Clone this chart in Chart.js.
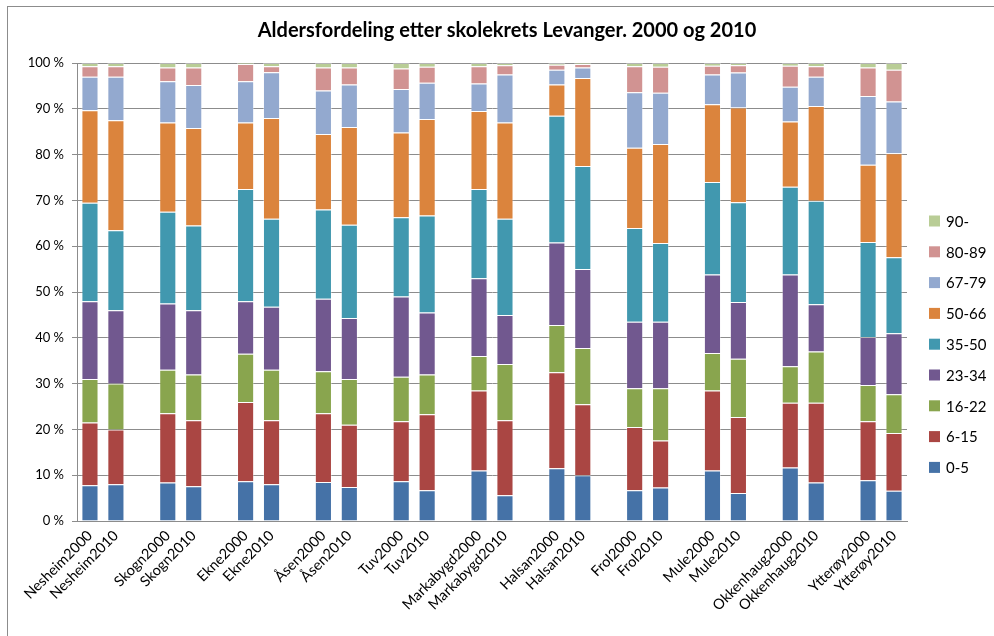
<!doctype html>
<html>
  <head>
    <meta charset="utf-8">
    <title>Aldersfordeling etter skolekrets Levanger</title>
    <script src="https://cdn.jsdelivr.net/npm/chart.js@4.4.0/dist/chart.umd.min.js"></script>
    <style>
    html, body { margin: 0; padding: 0; background: #fff; overflow: hidden; }
    #wrap { position: relative; width: 994px; height: 636px; }
    #frame { position: absolute; left: 7px; top: 6px; width: 1000px; height: 700px; border: 1px solid #8c8c8c; box-sizing: border-box; }
    #AgeChart { position: absolute; left: 0; top: 0; }
    </style>
  </head>
  <body>
    <div id="wrap">
      <div id="frame"></div>
      <canvas id="AgeChart" width="994" height="636"></canvas>
    </div>

    <script>
    // categories, "" = empty slot between the pairs
    var Kretser = ["Nesheim2000","Nesheim2010","","Skogn2000","Skogn2010","","Ekne2000","Ekne2010","",
      "Åsen2000","Åsen2010","","Tuv2000","Tuv2010","","Markabygd2000","Markabygd2010","",
      "Halsan2000","Halsan2010","","Frol2000","Frol2010","","Mule2000","Mule2010","",
      "Okkenhaug2000","Okkenhaug2010","","Ytterøy2000","Ytterøy2010"];

    var AgeGroups = ["0-5","6-15","16-22","23-34","35-50","50-66","67-79","80-89","90-"];
    var AgeColors = ["#4572A7","#AA4643","#89A54E","#71588F","#4198AF","#DB843D","#93A9CF","#D19392","#B9CD96"];

    // share in percent, one entry per category (null = gap)
    var Age0_5   = [7.8,8.0,null,8.4,7.6,null,8.7,8.0,null,8.5,7.4,null,8.7,6.7,null,11.0,5.6,null,11.5,10.0,null,6.7,7.3,null,11.0,6.1,null,11.7,8.4,null,8.9,6.6];
    var Age6_15  = [13.7,12.0,null,15.1,14.4,null,17.3,14.0,null,15.0,13.6,null,13.1,16.6,null,17.5,16.4,null,21.0,15.5,null,13.8,10.3,null,17.5,16.6,null,14.1,17.4,null,12.9,12.6];
    var Age16_22 = [9.5,10.0,null,9.5,10.0,null,10.5,11.0,null,9.2,10.0,null,9.7,8.7,null,7.5,12.3,null,10.3,12.3,null,8.5,11.4,null,8.2,12.7,null,8.0,11.2,null,7.9,8.5];
    var Age23_34 = [17.0,16.0,null,14.5,14.0,null,11.5,13.8,null,15.8,13.3,null,17.5,13.5,null,17.0,10.7,null,18.0,17.2,null,14.5,14.5,null,17.1,12.4,null,20.0,10.3,null,10.5,13.3];
    var Age35_50 = [21.5,17.5,null,20.0,18.5,null,24.5,19.2,null,19.5,20.4,null,17.3,21.2,null,19.5,21.0,null,27.7,22.5,null,20.5,17.2,null,20.2,21.8,null,19.2,22.6,null,20.7,16.6];
    var Age50_66 = [20.2,24.0,null,19.5,21.3,null,14.5,22.0,null,16.5,21.3,null,18.5,21.1,null,17.0,21.0,null,6.8,19.2,null,17.5,21.6,null,17.0,20.7,null,14.2,20.7,null,16.9,22.7];
    var Age67_79 = [7.3,9.5,null,9.0,9.4,null,9.0,10.0,null,9.5,9.3,null,9.5,7.9,null,6.0,10.5,null,3.2,2.3,null,12.1,11.2,null,6.5,7.6,null,7.6,6.4,null,15.0,11.3];
    var Age80_89 = [2.3,2.3,null,3.0,3.8,null,3.8,1.3,null,5.0,3.7,null,4.5,3.5,null,3.8,2.0,null,1.1,0.8,null,5.7,5.7,null,1.9,1.6,null,4.6,2.3,null,6.2,6.9];
    var Age90    = [0.7,0.7,null,1.0,1.0,null,0.2,0.7,null,1.0,1.0,null,1.2,0.8,null,0.7,0.5,null,0.4,0.2,null,0.7,0.8,null,0.6,0.5,null,0.6,0.7,null,1.0,1.5];

    var YTicks = [0,10,20,30,40,50,60,70,80,90,100];

    var AgeData = [Age0_5, Age6_15, Age16_22, Age23_34, Age35_50, Age50_66, Age67_79, Age80_89, Age90];
    var FontName = "Lato, 'Open Sans', sans-serif";

    var datasets = [];
    for (var i = 0; i < AgeGroups.length; i++) {
      datasets.push({
        label: AgeGroups[i],
        data: AgeData[i],
        backgroundColor: AgeColors[i],
        borderColor: "rgba(255,255,255,0.35)",
        borderWidth: 1,
        barPercentage: 0.66,
        categoryPercentage: 1
      });
    }

    // title + legend drawn by hand so the plot area stays put
    var extras = {
      id: "extras",
      afterDraw: function(chart) {
        var c = chart.ctx;
        c.save();
        c.fillStyle = "#000";
        c.font = "bold 20px " + FontName;
        c.textAlign = "center";
        c.textBaseline = "middle";
        c.fillText("Aldersfordeling etter skolekrets Levanger. 2000 og 2010", 507, 31);

        c.font = "15px " + FontName;
        c.textAlign = "left";
        for (var k = 0; k < AgeGroups.length; k++) {
          var j = AgeGroups.length - 1 - k;
          var y = 221 + k * 30.8;
          c.fillStyle = AgeColors[j];
          c.fillRect(929, y - 5.5, 11, 11);
          c.fillStyle = "#000";
          c.fillText(AgeGroups[j], 946, y + 1);
        }
        c.restore();
      }
    };

    var ctx = document.getElementById("AgeChart");
    var myChart = new Chart(ctx, {
      type: "bar",
      data: { labels: Kretser, datasets: datasets },
      options: {
        responsive: false,
        animation: false,
        maintainAspectRatio: false,
        layout: { padding: { left: 0, right: 87, top: 63, bottom: 0 } },
        plugins: {
          legend: { display: false },
          title: { display: false },
          tooltip: { enabled: false }
        },
        scales: {
          x: {
            stacked: true,
            grid: { display: false, drawTicks: false },
            border: { color: "#8c8c8c", width: 1 },
            ticks: {
              autoSkip: false,
              minRotation: 45,
              maxRotation: 45,
              padding: 6,
              color: "#000",
              font: { family: FontName, size: 14.5 }
            },
            afterFit: function(scale) { scale.height = 115; }
          },
          y: {
            stacked: true,
            min: 0,
            max: 100,
            afterBuildTicks: function(scale) {
              scale.ticks = YTicks.map(function(v) { return { value: v }; });
            },
            grid: { color: "#8c8c8c", lineWidth: 1, drawTicks: true, tickLength: 5 },
            border: { color: "#8c8c8c", width: 1 },
            ticks: {
              color: "#000",
              padding: 8,
              font: { family: FontName, size: 13 },
              callback: function(v) { return v + " %"; }
            },
            afterFit: function(scale) { scale.width = 77; }
          }
        }
      },
      plugins: [extras]
    });
    </script>
  </body>
</html>
